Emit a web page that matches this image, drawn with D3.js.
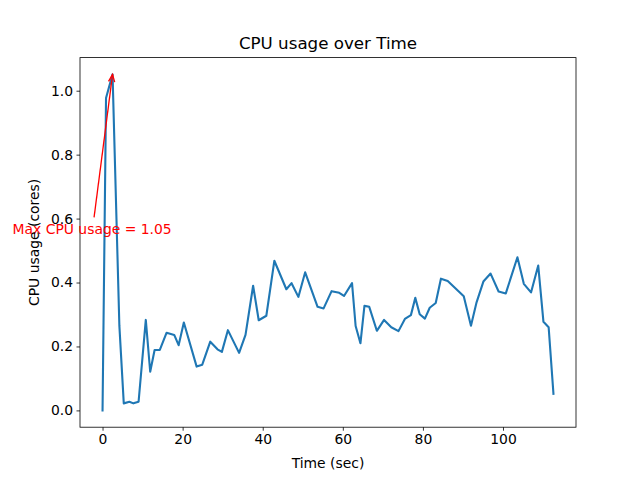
<!DOCTYPE html>
<html><head><meta charset="utf-8">
<script src="https://cdn.jsdelivr.net/npm/d3@7"></script>
<style>body{margin:0;background:#fff}svg{display:block}text{font-family:"DejaVu Sans",sans-serif}</style>
</head><body><svg id="c" width="640" height="480"></svg>
<script>
const times = [0,0.87,2.5,4.2,5.3,6.7,7.7,9.0,10.8,11.9,13.0,14.3,16.0,17.9,19.0,20.3,23.5,24.9,26.9,28.7,29.8,31.3,34.1,35.7,37.6,39.0,40.9,42.9,45.9,47.2,48.9,50.6,53.7,55.2,57.2,59.1,60.3,62.3,63.2,64.4,65.4,66.6,68.5,70.3,72.1,73.9,75.5,77.0,78.1,79.2,80.5,81.7,83.2,84.5,86.2,90.2,92.0,93.4,95.1,96.9,98.9,100.7,103.6,105.2,107.0,108.8,110.1,111.4,112.6];
const cpu = [0,0.977,1.051,0.265,0.022,0.027,0.022,0.027,0.283,0.121,0.189,0.189,0.243,0.236,0.204,0.275,0.137,0.143,0.215,0.191,0.183,0.251,0.180,0.236,0.390,0.282,0.296,0.468,0.379,0.398,0.355,0.432,0.324,0.319,0.373,0.368,0.358,0.398,0.264,0.210,0.327,0.324,0.249,0.283,0.260,0.248,0.286,0.298,0.352,0.301,0.287,0.321,0.336,0.412,0.405,0.357,0.265,0.338,0.403,0.428,0.372,0.366,0.479,0.396,0.369,0.453,0.277,0.260,0.052];
const xTicks = [0,20,40,60,80,100];
const yTicks = [0.0,0.2,0.4,0.6,0.8,1.0];
const titleText = "CPU usage over Time";
const xLabel = "Time (sec)";
const yLabel = "CPU usage (cores)";
const annText = "Max CPU usage = 1.05";
const annTextPos = [-2.6, 0.567];
const annArrowStart = [-2.12, 0.604];

const svg = d3.select("#c");
const L=80, R=576, T=57.6, B=427.2;
const xmax = d3.max(times), ymax = d3.max(cpu), ymin = d3.min(cpu);
const x = d3.scaleLinear().domain([-0.05*xmax, xmax*1.05]).range([L,R]);
const y = d3.scaleLinear().domain([ymin-0.05*(ymax-ymin), ymax+0.05*(ymax-ymin)]).range([B,T]);

const gx = svg.append("g").attr("transform",`translate(0,${B})`)
  .call(d3.axisBottom(x).tickValues(xTicks).tickFormat(d3.format("d")).tickSize(3.5).tickPadding(3.5));
const gy = svg.append("g").attr("transform",`translate(${L},0)`)
  .call(d3.axisLeft(y).tickValues(yTicks).tickFormat(d3.format(".1f")).tickSize(3.5).tickPadding(3.5));
[gx,gy].forEach(g=>{
  g.select(".domain").remove();
  g.selectAll(".tick line").attr("stroke","#000").attr("stroke-width",0.8);
  g.selectAll(".tick text").attr("font-size","13.9px").attr("fill","#000").attr("font-family","DejaVu Sans");
});

const line = d3.line().x((d,i)=>x(times[i])).y(d=>y(d));
svg.append("path").datum(cpu).attr("d",line).attr("fill","none")
  .attr("stroke","#1f77b4").attr("stroke-width",2.1).attr("stroke-linejoin","round").attr("stroke-linecap","square");

svg.append("rect").attr("x",L).attr("y",T).attr("width",R-L).attr("height",B-T)
  .attr("fill","none").attr("stroke","#000").attr("stroke-width",0.8);

// annotation
const imax = d3.maxIndex(cpu);
const px = x(times[imax]), py = y(cpu[imax]);
const sx = x(annArrowStart[0]), sy = y(annArrowStart[1]);
svg.append("line").attr("x1",sx).attr("y1",sy).attr("x2",px).attr("y2",py)
  .attr("stroke","red").attr("stroke-width",1.3);
const ang = Math.atan2(py-sy, px-sx);
const hl = 8, ha = 0.4;
svg.append("path").attr("d",`M${px-hl*Math.cos(ang-ha)},${py-hl*Math.sin(ang-ha)}L${px},${py}L${px-hl*Math.cos(ang+ha)},${py-hl*Math.sin(ang+ha)}`)
  .attr("fill","none").attr("stroke","red").attr("stroke-width",1.3);
svg.append("text").attr("x",x(annTextPos[0])).attr("y",y(annTextPos[1])).attr("dy","0.35em")
  .attr("text-anchor","middle").attr("fill","red").attr("font-size","13.9px").text(annText);

svg.append("text").attr("x",(L+R)/2).attr("y",49).attr("text-anchor","middle")
  .attr("font-size","16.7px").attr("fill","#000").text(titleText);
svg.append("text").attr("x",(L+R)/2).attr("y",468).attr("text-anchor","middle")
  .attr("font-size","13.9px").attr("fill","#000").text(xLabel);
svg.append("text").attr("transform",`translate(39,${(T+B)/2}) rotate(-90)`).attr("text-anchor","middle")
  .attr("font-size","13.9px").attr("fill","#000").text(yLabel);
</script></body></html>
